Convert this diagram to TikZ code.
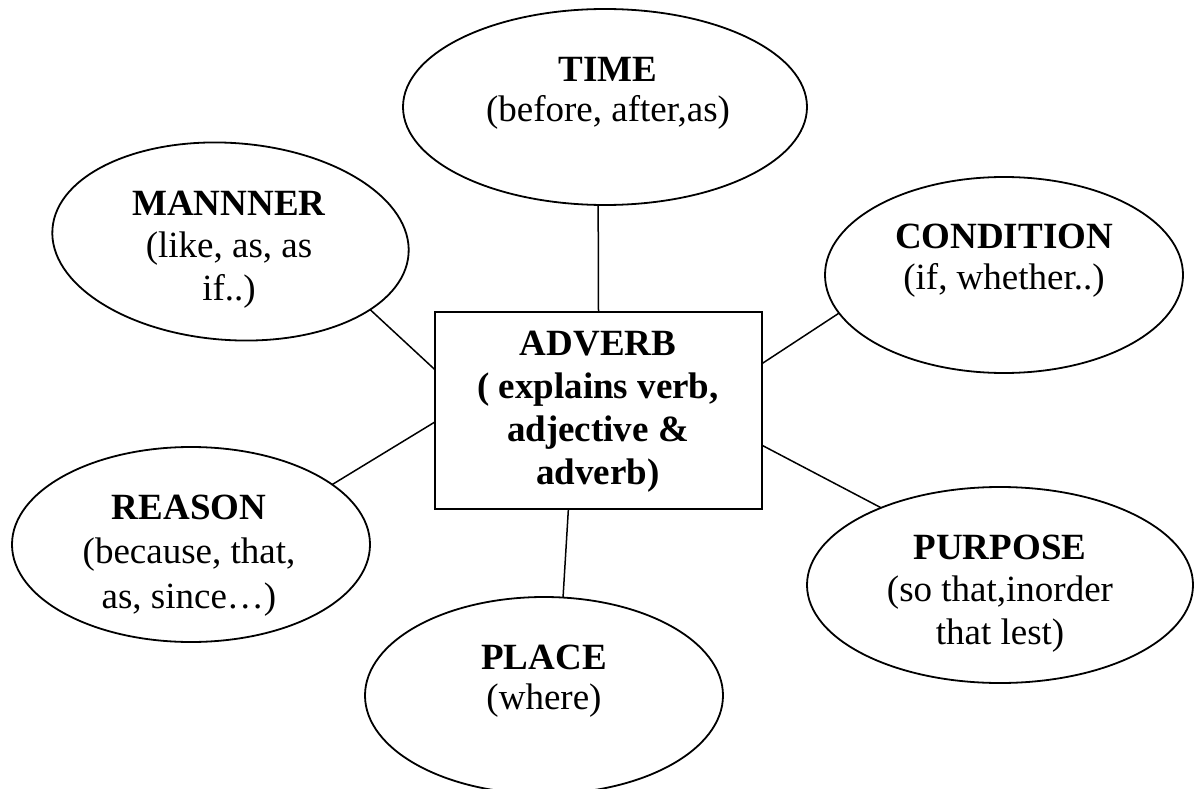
\documentclass[tikz,border=0pt]{standalone}
\usepackage{fontspec}
\setmainfont{Liberation Serif}
\usetikzlibrary{shapes.geometric}
% centred stack of lines whose baseline is that of the first line
\newcommand{\linestack}[1]{\begin{tabular}[t]{@{}c@{}}#1\end{tabular}}

\begin{document}
\begin{tikzpicture}[x=1pt, y=-1pt,
  bubble/.style={draw, line width=1.8pt, ellipse, inner sep=0pt, outer sep=0pt},
  core/.style={draw, line width=1.8pt, rectangle, inner sep=0pt, outer sep=0pt,
               minimum width=327pt, minimum height=197pt},
  txt/.style={anchor=base, inner sep=0pt, font=\fontsize{37}{#1}\selectfont},
  txt/.default=42.5,
  link/.style={line width=1.5pt}]

\fill[white] (0,0) rectangle (1194,789);
\useasboundingbox (0,0) rectangle (1194,789);

% outer bubbles and the central box
\node[bubble, minimum width=404pt, minimum height=196pt] (time) at (605,107) {};
\node[bubble, minimum width=357pt, minimum height=197pt, rotate=-4] (manner) at (230.5,241.5) {};
\node[bubble, minimum width=358pt, minimum height=196pt] (cond) at (1004,275) {};
\node[bubble, minimum width=358pt, minimum height=195pt] (reason) at (191,544.5) {};
\node[bubble, minimum width=386pt, minimum height=196pt] (purpose) at (1000,585) {};
\node[bubble, minimum width=358pt, minimum height=197pt] (place) at (544,695.5) {};
\node[core] (adv) at (598.5,410.5) {};

% texts
\node[txt=40] (timeT) at (608,82) {\linestack{\textbf{TIME}\\(before, after,as)}};
\node[txt=42.5] (mannerT) at (229,215) {\linestack{\textbf{MANNNER}\\(like, as, as\\if..)}};
\node[txt=41] (condT) at (1004,248.3) {\linestack{\textbf{CONDITION}\\(if, whether..)}};
\node[txt=43.3] (advT) at (598,355) {\linestack{\textbf{ADVERB}\\\textbf{( explains verb,}\\\textbf{adjective \&}\\\textbf{adverb)}}};
\node[txt=44.5] (reasonT) at (189,519.3) {\linestack{\textbf{REASON}\\(because, that,\\as, since…)}};
\node[txt=42.4] (purposeT) at (1000,559.3) {\linestack{\textbf{PURPOSE}\\(so that,inorder\\that lest)}};
\node[txt=40] (placeT) at (544,669) {\linestack{\textbf{PLACE}\\(where)}};

% connectors
\draw[link] (time.-94.67) -- (adv.90.87);
\draw[link] (manner.-22.6) -- (adv.166.1);
\draw[link] (cond.-167.2) -- (adv.16.5);
\draw[link] (reason.23.4) -- (adv.-176);
\draw[link] (purpose.147.7) -- (adv.-12.6);
\draw[link] (place.79.1) -- (adv.-107.7);
\end{tikzpicture}
\end{document}
